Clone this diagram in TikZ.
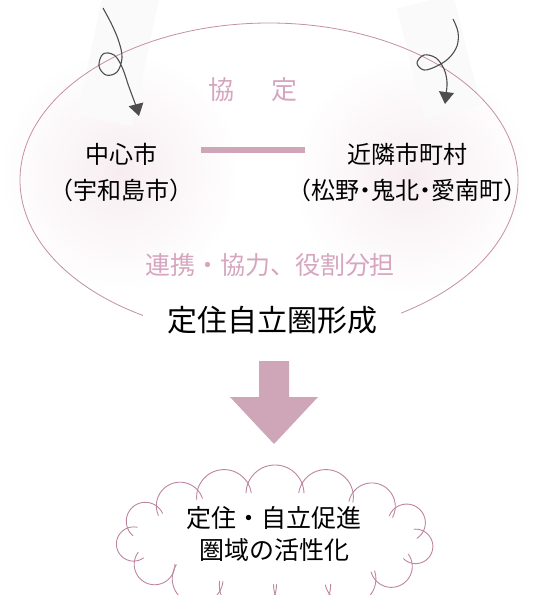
\documentclass[tikz,border=0pt]{standalone}
\usepackage{fontspec}
\setmainfont{Noto Sans CJK JP}
\usetikzlibrary{arrows.meta,calc}
\definecolor{ellc}{RGB}{196,142,166}
\definecolor{cloudc}{RGB}{190,132,160}
\definecolor{mauve}{RGB}{207,166,184}
\definecolor{pinktext}{RGB}{214,166,190}
\definecolor{arrowc}{RGB}{78,78,78}
\definecolor{glow}{RGB}{247,237,241}
\definecolor{paper}{RGB}{251,250,251}
\begin{document}
\begin{tikzpicture}[x=1pt,y=-1pt,
  jtext/.style={inner sep=0pt, align=center, text=black},
  curly/.style={arrowc, line width=1.1pt, -{Triangle[length=12pt,width=15pt]}},
  link/.style={mauve, line width=5.5pt},
  cloudline/.style={cloudc, line width=0.9pt, line cap=round}]
\useasboundingbox (0,0) rectangle (533,595);

% soft glows behind the city names
\shade[inner color=glow, outer color=white] (120,172) circle (120pt);
\shade[inner color=glow, outer color=white] (412,176) circle (120pt);

% faint paper strips behind the curly arrows
\fill[paper, rotate around={-12:(118,58)}] (90,-12) rectangle (146,122);
\fill[paper, rotate around={14:(438,58)}] (410,0) rectangle (468,114);

% big ellipse
\draw[ellc, line width=0.8pt] (269,180) ellipse [x radius=249pt, y radius=157pt];

% texts
\node[jtext, text=pinktext, font=\fontsize{26}{30}\selectfont] (kyotei) at (253,90) {協\hspace{37pt}定};
\node[jtext, font=\fontsize{24}{36}\selectfont] (center) at (121,173) {中心市\\（宇和島市）};
\node[jtext, font=\fontsize{24}{36}\selectfont] (neigh) at (407,173) {近隣市町村\\（松野\kern-0.25em・\kern-0.25em鬼北\kern-0.25em・\kern-0.25em愛南町）};
\node[jtext, text=pinktext, font=\fontsize{25}{30}\selectfont] (renkei) at (270,265) {連携・協力、役割分担};
\node[jtext, fill=white, inner xsep=24pt, minimum height=44pt, font=\fontsize{30}{34}\selectfont] (title) at (272,320) {定住自立圏形成};

% link between the cities
\coordinate (lineL) at (201,150);
\coordinate (lineR) at (305,150);
\draw[link] (lineL) -- (lineR);

% curly arrows
\coordinate (tipL) at (139,116);
\coordinate (tipR) at (445,104);
\draw[curly] plot[smooth, tension=0.6] coordinates {(103,8) (112,25) (119,42) (122,58) (117,72) (106,75) (99,66) (103,54) (114,55) (122,67) (129,87) (136,106) (tipL)};
\draw[curly] plot[smooth, tension=0.6] coordinates {(453,19) (458,32) (457,46) (449,58) (437,66) (424,70) (417,63) (424,55) (436,58) (444,69) (447,82) (446,95) (tipR)};

% big down arrow
\fill[mauve] (259,361) -- (289,361) -- (289,397) -- (318,397) -- (274,444) -- (230,397) -- (259,397) -- cycle;

% cloud: overlapping circular bumps with small hooks
\def\ccx{275}\def\ccy{540}\def\A{142}\def\B{46}
\foreach \p/\c/\n in {249/270/291, 270/291/313, 291/313/338, 313/338/368, 338/368/395, 8/35/58, 35/58/79, 58/79/101, 79/101/123, 101/123/148, 123/148/175, 148/175/204, 175/204/228, 204/228/249, 228/249/270}{
  \pgfmathsetmacro\rc{17+12*sin(\c)^2}
  \pgfmathsetmacro\rp{17+12*sin(\p)^2}
  \pgfmathsetmacro\rn{17+12*sin(\n)^2}
  \pgfmathsetmacro\xc{\ccx+\A*cos(\c)}
  \pgfmathsetmacro\yc{\ccy+\B*sin(\c)}
  \pgfmathsetmacro\dxp{\A*cos(\p)-\A*cos(\c)}
  \pgfmathsetmacro\dyp{\B*sin(\p)-\B*sin(\c)}
  \pgfmathsetmacro\dxn{\A*cos(\n)-\A*cos(\c)}
  \pgfmathsetmacro\dyn{\B*sin(\n)-\B*sin(\c)}
  \pgfmathsetmacro\dp{veclen(\dxp,\dyp)}
  \pgfmathsetmacro\dn{veclen(\dxn,\dyn)}
  \pgfmathsetmacro\gp{acos(min(1,(\dp*\dp+\rc*\rc-\rp*\rp)/(2*\dp*\rc)))}
  \pgfmathsetmacro\gn{acos(min(1,(\dn*\dn+\rc*\rc-\rn*\rn)/(2*\dn*\rc)))}
  \pgfmathsetmacro\ov{560/\rc}
  \pgfmathsetmacro\st{atan2(\dyp,\dxp)+\gp-\ov}
  \pgfmathsetmacro\en{atan2(\dyn,\dxn)-\gn+\ov}
  \pgfmathsetmacro\enn{\st+Mod(\en-\st,360)}
  \draw[cloudline] plot[domain=\st:\enn, samples=40, variable=\t] ({\xc+\rc*cos(\t)},{\yc+\rc*sin(\t)});
}
\node[jtext, font=\fontsize{25}{32}\selectfont] (result) at (274,534) {定住・自立促進\\圏域の活性化};
\end{tikzpicture}
\end{document}
